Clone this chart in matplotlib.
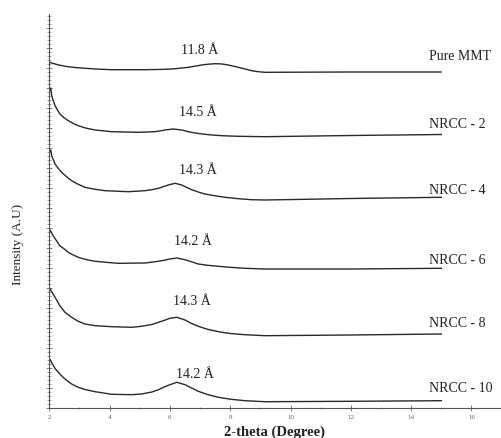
import matplotlib
matplotlib.use("Agg")
import matplotlib.pyplot as plt
from matplotlib.ticker import MultipleLocator

# ---- data (stacked intensities in arbitrary units) ----
x_mmt = [2.0, 2.25, 2.52, 2.85, 3.18, 3.6, 4.07, 5.17, 5.6, 6.06, 6.35, 6.61, 6.85, 7.05, 7.27,
         7.5, 7.7, 7.88, 8.07, 8.27, 8.5, 8.71, 8.93, 9.15, 12.0, 15.0]
y_mmt = [345.7, 343.5, 341.7, 340.5, 339.7, 338.9, 338.3, 338.3, 338.5, 339, 339.8, 340.7, 341.9,
         343, 343.8, 344.3, 344.1, 343.3, 342.1, 340.7, 339, 337.3, 336.3, 335.7, 336, 336]

x_n2 = [2.0, 2.05, 2.08, 2.13, 2.19, 2.27, 2.35, 2.48, 2.63, 2.8, 2.96, 3.2, 3.52, 4.07, 4.95,
        5.5, 5.7, 5.84, 6.11, 6.39, 6.6, 6.83, 7.1, 7.39, 7.8, 8.27, 9.15, 12.0, 15.0]
y_n2 = [317, 320, 312.3, 307.5, 302.3, 298, 294, 290.5, 287.3, 284.5, 282.3, 280, 278, 276.3,
        275.7, 276.3, 277.2, 278, 279, 278, 276.4, 275, 273.9, 273, 272.2, 271.7, 271.3, 272.5, 273.5]

x_n4 = [2.0, 2.05, 2.08, 2.19, 2.3, 2.41, 2.57, 2.74, 2.96, 3.18, 3.52, 3.85, 4.62, 5.17, 5.4,
        5.62, 5.8, 5.95, 6.17, 6.39, 6.55, 6.72, 6.94, 7.16, 7.5, 7.83, 8.27, 8.71, 9.15, 12.0, 15.0]
y_n4 = [256, 258, 252.3, 244, 239.5, 235.7, 231.3, 227.3, 223.7, 220.7, 218.7, 217.3, 216.3,
        217.3, 218.3, 219.7, 221.5, 223, 224.7, 223, 220.7, 218.3, 216, 214, 212.2, 210.7, 209.3,
        208.3, 208, 209.5, 210.7]

x_n6 = [2.0, 2.06, 2.13, 2.19, 2.35, 2.52, 2.63, 2.74, 2.96, 3.18, 3.52, 4.07, 4.29, 5.17, 5.45,
        5.73, 6.0, 6.23, 6.5, 6.72, 6.94, 7.25, 7.61, 8.0, 8.49, 9.15, 12.0, 15.0]
y_n6 = [179, 176, 172.3, 169.5, 162.3, 158.5, 155.7, 153.8, 150.7, 148.7, 146.7, 145.2, 144.7,
        145, 146, 147.3, 149, 150, 148.3, 146.2, 144, 142.7, 141.7, 140.7, 139.7, 139, 139, 139.7]

x_n8 = [2.0, 2.06, 2.19, 2.35, 2.52, 2.74, 2.96, 3.18, 3.52, 4.07, 4.73, 5.06, 5.4, 5.62, 5.85,
        6.0, 6.23, 6.5, 6.72, 6.94, 7.25, 7.61, 8.0, 8.49, 9.15, 12.0, 15.0]
y_n8 = [120.7, 117.3, 110.7, 102.3, 95.7, 90.7, 86.7, 84, 82.3, 81.3, 80.7, 81.7, 83.5, 85.7, 88,
        89.7, 90.7, 88, 84.5, 81.7, 78.7, 76.3, 74.5, 73.3, 72.3, 73, 74]

x_n10 = [2.0, 2.06, 2.19, 2.35, 2.52, 2.74, 2.96, 3.18, 3.52, 4.07, 4.73, 5.06, 5.4, 5.62, 5.85,
         6.0, 6.23, 6.5, 6.72, 6.94, 7.25, 7.61, 8.0, 8.49, 9.15, 12.0, 15.0]
y_n10 = [49.7, 46.5, 39.5, 34, 29, 24, 20.7, 18.5, 16.3, 13.7, 13.3, 14, 16, 18.3, 21.5, 23.3,
         25.7, 23.3, 20, 16.7, 13.5, 10.7, 8.8, 7.3, 6.3, 6.7, 7.3]

sample_names = ["Pure MMT", "NRCC - 2", "NRCC - 4", "NRCC - 6", "NRCC - 8", "NRCC - 10"]
d_spacings = ["11.8 Å", "14.5 Å", "14.3 Å", "14.2 Å", "14.3 Å", "14.2 Å"]
x_ticks = [2, 4, 6, 8, 10, 12, 14, 16]

series = [(x_mmt, y_mmt), (x_n2, y_n2), (x_n4, y_n4), (x_n6, y_n6), (x_n8, y_n8), (x_n10, y_n10)]

# ---- layout ----
d_label_pos = [(7.0, 359), (6.93, 296), (6.93, 239), (6.77, 167.3), (6.74, 107.3), (6.84, 34)]
name_label_x = 14.6
name_label_y = [352.3, 285, 219, 148, 85.7, 20.7]

plt.rcParams['font.family'] = ['Liberation Serif', 'DejaVu Serif']

fig = plt.figure(figsize=(5.01, 4.39), dpi=100)
ax = fig.add_axes([49.3 / 501, 30 / 439, 452.3 / 501, 394 / 439])

for (xs, ys) in series:
    ax.plot(xs, ys, color='#2a2a2a', lw=1.0, solid_joinstyle='round')

for txt, (px, py) in zip(d_spacings, d_label_pos):
    ax.text(px, py, txt, ha='center', va='center', fontsize=10, color='#222222')

for txt, py in zip(sample_names, name_label_y):
    ax.text(name_label_x, py, txt, ha='left', va='center', fontsize=10, color='#222222',
            clip_on=False)

ax.set_xlim(2, 17)
ax.set_ylim(0, 394)
for s in ['top', 'right']:
    ax.spines[s].set_visible(False)
for s in ['left', 'bottom']:
    ax.spines[s].set_color('#555555')
    ax.spines[s].set_linewidth(0.8)

ax.set_xticks(x_ticks)
ax.set_xticklabels([str(t) for t in x_ticks])
ax.xaxis.set_minor_locator(MultipleLocator(1))
ax.yaxis.set_major_locator(MultipleLocator(20))
ax.yaxis.set_minor_locator(MultipleLocator(4))
ax.tick_params(axis='x', which='major', direction='inout', length=4, width=0.6,
               labelsize=5, colors='#666666', pad=2)
ax.tick_params(axis='x', which='minor', direction='inout', length=2, width=0.5, colors='#777777')
ax.tick_params(axis='y', which='major', direction='inout', length=4, width=0.6,
               colors='#666666', labelleft=False)
ax.tick_params(axis='y', which='minor', direction='inout', length=2.5, width=0.5, colors='#777777')

fig.text(274 / 501, 1 - 432 / 439, "2-theta (Degree)", ha='center', va='center',
         fontsize=10.5, fontweight='bold', color='#222222')
fig.text(18 / 501, 1 - 244 / 439, "Intensity (A.U)", ha='center', va='center',
         rotation=90, fontsize=9.5, color='#222222')

fig.savefig("out.png", dpi=100)
